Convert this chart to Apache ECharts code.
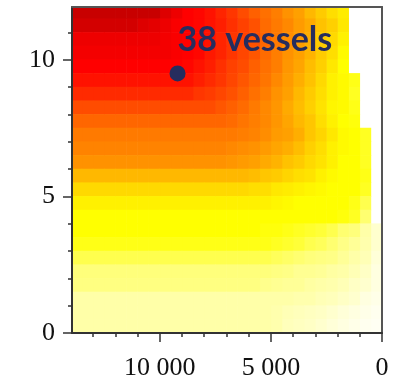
<!DOCTYPE html>
<html>
<head>
<meta charset="utf-8">
<script src="https://cdn.jsdelivr.net/npm/echarts@6/dist/echarts.min.js"></script>
<style>
  html, body { margin: 0; padding: 0; background: #ffffff; }
  #chart { width: 398px; height: 382px; }
</style>
</head>
<body>
<div id="chart"></div>
<script>
// Cell binning of the intensity map
const cellWidth = 500;
const cellHeight = 0.5;

// Intensity (0-100) per cell. Rows run from the top band (y 11.5-12) down to
// the bottom band (y 0-0.5); columns run from x = 0 upwards in cellWidth steps.
// null marks cells without data.
const intensityRows = [
  [null, null, null, 44, 47, 51, 55, 60, 63, 67, 70, 73, 77, 81, 84, 87, 89, 90, 93, 96, 100, 100, 100, 100, 100, 100, 100, 100],
  [null, null, null, 45, 50, 53, 58, 61, 65, 68, 71, 76, 79, 82, 85, 87, 89, 90, 91, 93, 95, 96, 98, 98, 98, 98, 98, 98],
  [null, null, null, 43, 48, 51, 57, 61, 64, 68, 72, 76, 79, 81, 84, 87, 89, 90, 91, 92, 93, 93, 93, 93, 93, 93, 93, 93],
  [null, null, null, 41, 47, 51, 56, 60, 63, 67, 71, 75, 78, 81, 84, 86, 89, 90, 91, 92, 92, 92, 92, 92, 92, 92, 92, 92],
  [null, null, null, 40, 45, 50, 54, 59, 62, 67, 70, 73, 77, 79, 82, 85, 87, 89, 90, 90, 90, 90, 90, 90, 90, 90, 90, 90],
  [null, null, 38, 41, 43, 48, 53, 57, 61, 65, 69, 72, 75, 78, 81, 83, 85, 87, 87, 87, 87, 87, 87, 87, 87, 87, 87, 87],
  [null, null, 37, 41, 43, 47, 51, 55, 60, 63, 67, 70, 73, 76, 78, 80, 81, 83, 83, 83, 83, 83, 83, 83, 83, 83, 83, 83],
  [null, null, 38, 41, 42, 46, 50, 54, 58, 62, 65, 68, 71, 73, 75, 77, 77, 77, 77, 77, 77, 77, 77, 77, 77, 77, 77, 77],
  [null, null, 39, 40, 43, 47, 52, 55, 59, 62, 65, 67, 69, 71, 72, 72, 72, 72, 72, 72, 72, 72, 72, 72, 72, 72, 72, 72],
  [null, 37, 40, 41, 45, 49, 52, 57, 60, 61, 64, 66, 67, 68, 68, 68, 68, 68, 68, 68, 68, 68, 68, 68, 68, 68, 68, 68],
  [null, 37, 40, 41, 43, 47, 50, 54, 57, 59, 61, 63, 64, 65, 66, 66, 66, 66, 66, 66, 66, 66, 66, 66, 66, 66, 66, 66],
  [null, 37, 40, 40, 43, 46, 48, 51, 53, 56, 58, 60, 61, 62, 63, 63, 63, 63, 63, 63, 63, 63, 63, 63, 63, 63, 63, 63],
  [null, 38, 40, 40, 41, 43, 46, 47, 49, 51, 52, 54, 55, 55, 55, 55, 55, 55, 55, 55, 55, 55, 55, 55, 55, 55, 55, 55],
  [null, 37, 40, 40, 40, 41, 42, 43, 44, 45, 47, 47, 48, 48, 48, 48, 48, 48, 48, 48, 48, 48, 48, 48, 48, 48, 48, 48],
  [null, 33, 38, 40, 40, 40, 40, 40, 41, 42, 43, 43, 43, 43, 43, 43, 43, 43, 43, 43, 43, 43, 43, 43, 43, 43, 43, 43],
  [null, 30, 37, 39, 40, 40, 40, 40, 40, 40, 40, 40, 40, 40, 40, 40, 40, 40, 40, 40, 40, 40, 40, 40, 40, 40, 40, 40],
  [12, 20, 28, 30, 33, 35, 36, 37, 38, 39, 39, 40, 40, 40, 40, 40, 40, 40, 40, 40, 40, 40, 40, 40, 40, 40, 40, 40],
  [12, 19, 23, 26, 30, 32, 33, 35, 36, 37, 38, 38, 38, 38, 38, 38, 38, 38, 38, 38, 38, 38, 38, 38, 38, 38, 38, 38],
  [10, 17, 20, 23, 26, 27, 28, 30, 31, 32, 33, 33, 33, 33, 33, 33, 33, 33, 33, 33, 33, 33, 33, 33, 33, 33, 33, 33],
  [8, 14, 17, 20, 21, 23, 24, 24, 26, 27, 28, 28, 28, 28, 28, 28, 28, 28, 28, 28, 28, 28, 28, 28, 28, 28, 28, 28],
  [8, 12, 14, 17, 19, 20, 21, 23, 23, 24, 25, 27, 27, 27, 27, 27, 27, 27, 27, 27, 27, 27, 27, 27, 27, 27, 27, 27],
  [6, 8, 12, 14, 16, 17, 19, 19, 20, 20, 20, 20, 20, 20, 20, 20, 20, 20, 20, 20, 20, 20, 20, 20, 20, 20, 20, 20],
  [4, 6, 8, 10, 12, 14, 15, 16, 17, 19, 20, 20, 20, 20, 20, 20, 20, 20, 20, 20, 20, 20, 20, 20, 20, 20, 20, 20],
  [3, 4, 6, 8, 10, 12, 14, 15, 16, 19, 20, 20, 20, 20, 20, 20, 20, 20, 20, 20, 20, 20, 20, 20, 20, 20, 20, 20]
];

const xMajorTicks = [0, 5000, 10000];
const xMinorTicks = [1000, 2000, 3000, 4000, 6000, 7000, 8000, 9000, 11000, 12000, 13000];
const yMajorTicks = [0, 5, 10];
const yMinorTicks = [1, 2, 3, 4, 6, 7, 8, 9, 11];

const vesselPoint = [9200, 9.5];
const vesselLabel = '38 vessels';

// Flatten rows into [xStart, yStart, intensity] triples
const cells = [];
intensityRows.forEach((row, i) => {
  const yStart = (intensityRows.length - 1 - i) * cellHeight;
  row.forEach((v, c) => {
    if (v !== null) cells.push([c * cellWidth, yStart, v]);
  });
});

const X_MAX = 13950;
const Y_MAX = 11.93;
const ink = '#333333';
const frame = '#555555';
const tickFont = { fontFamily: 'Liberation Serif', fontSize: 26, color: '#111111' };
const spaced = v => String(v).replace(/\B(?=(\d{3})+(?!\d))/g, ' ');
const plotRect = { left: 72, right: 16, top: 7, bottom: 49 };

function renderCell(params, api) {
  const x0 = api.value(0);
  const y0 = api.value(1);
  const a = api.coord([x0, y0]);
  const b = api.coord([x0 + cellWidth, y0 + cellHeight]);
  const rect = {
    x: Math.min(a[0], b[0]) - 0.3,
    y: Math.min(a[1], b[1]) - 0.3,
    width: Math.abs(b[0] - a[0]) + 0.6,
    height: Math.abs(b[1] - a[1]) + 0.6
  };
  const shape = echarts.graphic.clipRectByRect(rect, {
    x: params.coordSys.x,
    y: params.coordSys.y,
    width: params.coordSys.width,
    height: params.coordSys.height
  });
  return shape && { type: 'rect', shape: shape, style: { fill: api.visual('color') } };
}

function valueAxis(extra) {
  return Object.assign({
    type: 'value',
    z: 5,
    splitLine: { show: false },
    axisLine: { show: false, onZero: false },
    axisTick: { show: false },
    axisLabel: { show: false }
  }, extra);
}

const chart = echarts.init(document.getElementById('chart'), null, { renderer: 'canvas' });
chart.setOption({
  animation: false,
  backgroundColor: '#ffffff',
  // grid 0 carries the data, labels, long ticks and frame; grid 1 (same box) the short ticks
  grid: [Object.assign({}, plotRect), Object.assign({}, plotRect)],
  visualMap: {
    show: false,
    type: 'continuous',
    seriesIndex: 0,
    dimension: 2,
    min: 0,
    max: 100,
    inRange: {
      color: ['#ffffff', '#ffffd8', '#ffffa8', '#ffff70', '#ffff00', '#ffd000',
              '#ffa000', '#ff7000', '#ff3c00', '#ff0000', '#c80000']
    }
  },
  xAxis: [
    valueAxis({
      gridIndex: 0, position: 'bottom', inverse: true, min: 0, max: X_MAX,
      axisLine: { show: true, onZero: false, lineStyle: { color: ink, width: 2 } },
      axisTick: { show: true, length: 9, customValues: xMajorTicks, lineStyle: { color: ink, width: 1.5 } },
      axisLabel: Object.assign({ show: true, margin: 22, customValues: xMajorTicks, formatter: spaced }, tickFont)
    }),
    valueAxis({
      gridIndex: 0, position: 'top', inverse: true, min: 0, max: X_MAX,
      axisLine: { show: true, onZero: false, lineStyle: { color: frame, width: 2 } }
    }),
    valueAxis({
      gridIndex: 1, position: 'bottom', inverse: true, min: 0, max: X_MAX,
      axisTick: { show: true, length: 4, customValues: xMinorTicks, lineStyle: { color: ink, width: 1.5 } }
    })
  ],
  yAxis: [
    valueAxis({
      gridIndex: 0, position: 'left', min: 0, max: Y_MAX,
      axisLine: { show: true, onZero: false, lineStyle: { color: ink, width: 2 } },
      axisTick: { show: true, length: 9, customValues: yMajorTicks, lineStyle: { color: ink, width: 1.5 } },
      axisLabel: Object.assign({ show: true, margin: 17, customValues: yMajorTicks }, tickFont)
    }),
    valueAxis({
      gridIndex: 0, position: 'right', min: 0, max: Y_MAX,
      axisLine: { show: true, onZero: false, lineStyle: { color: frame, width: 2 } }
    }),
    valueAxis({
      gridIndex: 1, position: 'left', min: 0, max: Y_MAX,
      axisTick: { show: true, length: 4, customValues: yMinorTicks, lineStyle: { color: ink, width: 1.5 } }
    })
  ],
  series: [
    {
      type: 'custom',
      xAxisIndex: 0,
      yAxisIndex: 0,
      renderItem: renderCell,
      encode: { x: 0, y: 1 },
      data: cells,
      z: 1,
      silent: true
    },
    {
      type: 'scatter',
      xAxisIndex: 0,
      yAxisIndex: 0,
      z: 10,
      symbol: 'circle',
      symbolSize: 16,
      itemStyle: { color: '#262d5e', opacity: 1 },
      data: [vesselPoint],
      label: {
        show: true,
        formatter: vesselLabel,
        position: [8, -25],
        align: 'left',
        verticalAlign: 'middle',
        fontFamily: 'Lato',
        fontWeight: 'bold',
        fontSize: 34,
        color: '#262d5e',
        opacity: 1
      }
    }
  ]
});
</script>
</body>
</html>
